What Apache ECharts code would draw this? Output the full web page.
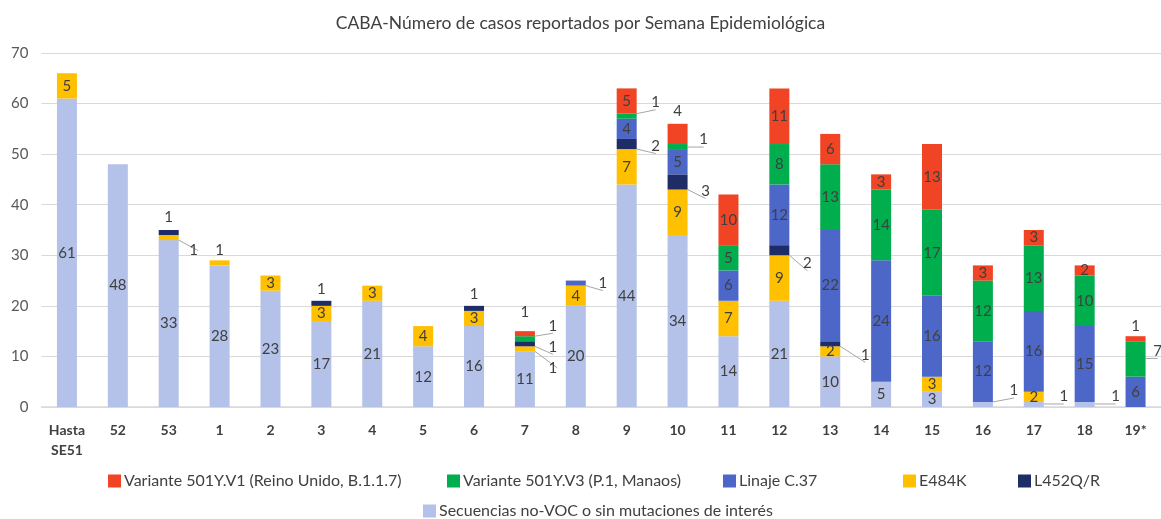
<!DOCTYPE html>
<html>
<head>
<meta charset="utf-8">
<script src="https://cdn.jsdelivr.net/npm/echarts@6/dist/echarts.min.js"></script>
<style>
  html, body { margin: 0; padding: 0; background: #fff; }
  #grafico { width: 1161px; height: 519px; }
</style>
</head>
<body>
<div id="grafico"></div>
<script>
// semanas epidemiologicas
const semanas = ['Hasta\nSE51', '52', '53', '1', '2', '3', '4', '5', '6', '7', '8', '9', '10',
  '11', '12', '13', '14', '15', '16', '17', '18', '19*']

// casos por categoria (de abajo hacia arriba en la pila)
const noVoc = [61, 48, 33, 28, 23, 17, 21, 12, 16, 11, 20, 44, 34, 14, 21, 10, 5, 3, 1, 1, 1, 0]
const e484k = [5, 0, 1, 1, 3, 3, 3, 4, 3, 1, 4, 7, 9, 7, 9, 2, 0, 3, 0, 2, 0, 0]
const l452 = [0, 0, 1, 0, 0, 1, 0, 0, 1, 1, 0, 2, 3, 0, 2, 1, 0, 0, 0, 0, 0, 0]
const c37 = [0, 0, 0, 0, 0, 0, 0, 0, 0, 0, 1, 4, 5, 6, 12, 22, 24, 16, 12, 16, 15, 6]
const p1 = [0, 0, 0, 0, 0, 0, 0, 0, 0, 1, 0, 1, 1, 5, 8, 13, 14, 17, 12, 13, 10, 7]
const b117 = [0, 0, 0, 0, 0, 0, 0, 0, 0, 1, 0, 5, 4, 10, 11, 6, 3, 13, 3, 3, 2, 1]

const nombres = {
  b117: 'Variante 501Y.V1 (Reino Unido, B.1.1.7)',
  p1: 'Variante 501Y.V3 (P.1, Manaos)',
  c37: 'Linaje C.37',
  e484k: 'E484K',
  l452: 'L452Q/R',
  noVoc: 'Secuencias no-VOC o sin mutaciones de interés'
}
const colores = {
  noVoc: '#b4c1e8',
  e484k: '#ffc000',
  l452: '#1f2d66',
  c37: '#4d67c9',
  p1: '#00ae4e',
  b117: '#f04424'
}

// etiquetas fuera de la barra: desplazamiento [dx, dy] desde el centro del tramo
const fuera = {
  noVoc: { 18: [31, -14], 19: [30, -8], 20: [31, -8] },
  e484k: { 2: [25, 13], 9: [28, 19] },
  l452: { 9: [28, 3], 11: [29, 2], 12: [28, 9], 14: [28, 13], 15: [35, 11] },
  c37: { 10: [27, 0] },
  p1: { 9: [28, -13], 11: [29, -14], 12: [26, -7], 21: [22, -8] },
  b117: {}
}
// etiquetas encima de la barra: distancia
const arriba = {
  e484k: { 3: 3 },
  l452: { 2: 5, 5: 4, 8: 4 },
  b117: { 9: 11, 12: 5, 21: 3 }
}

const fuente = 'Lato, "Open Sans", sans-serif'
const gris = '#404040'

function armarDatos (clave, valores) {
  return valores.map((v, i) => {
    if (!v) return null
    const f = fuera[clave] && fuera[clave][i]
    const a = arriba[clave] && arriba[clave][i]
    if (f) {
      return {
        value: v,
        label: { position: 'inside', offset: f },
        labelLine: { show: true }
      }
    }
    if (a !== undefined) {
      return { value: v, label: { position: 'top', distance: a } }
    }
    return v
  })
}

const orden = ['noVoc', 'e484k', 'l452', 'c37', 'p1', 'b117']
const valores = { noVoc, e484k, l452, c37, p1, b117 }

const series = orden.map(clave => ({
  name: nombres[clave],
  type: 'bar',
  stack: 'total',
  barWidth: 20,
  itemStyle: { color: colores[clave] },
  label: {
    show: true,
    position: 'inside',
    color: gris,
    fontFamily: fuente,
    fontSize: 15,
    textBorderWidth: 0
  },
  labelLine: {
    show: false,
    lineStyle: { color: '#a6a6a6', width: 1 }
  },
  emphasis: { disabled: true },
  data: armarDatos(clave, valores[clave])
}))

// leyenda: cada elemento en su lugar
const posLeyenda = [
  { clave: 'b117', left: 103, top: 468 },
  { clave: 'p1', left: 442, top: 468 },
  { clave: 'c37', left: 718, top: 468 },
  { clave: 'e484k', left: 898, top: 468 },
  { clave: 'l452', left: 1013, top: 468 },
  { clave: 'noVoc', left: 418, top: 498 }
]
const leyendas = posLeyenda.map(p => ({
  data: [nombres[p.clave]],
  left: p.left,
  top: p.top,
  icon: 'rect',
  itemWidth: 13,
  itemHeight: 13,
  itemGap: 0,
  selectedMode: false,
  textStyle: { color: gris, fontFamily: fuente, fontSize: 16, padding: [0, 0, 0, -2] }
}))

const chart = echarts.init(document.getElementById('grafico'), null, { renderer: 'canvas' })
chart.setOption({
  animation: false,
  backgroundColor: '#fff',
  title: {
    text: 'CABA-Número de casos reportados por Semana Epidemiológica',
    left: 'center',
    top: 9,
    textStyle: { color: gris, fontFamily: fuente, fontSize: 17.5, fontWeight: 'normal' }
  },
  legend: leyendas,
  grid: { left: 41.5, top: 53, width: 1124, height: 354, containLabel: false },
  xAxis: {
    type: 'category',
    data: semanas,
    axisLine: { lineStyle: { color: '#d9d9d9', width: 1.5 } },
    axisTick: { show: false },
    axisLabel: {
      color: gris,
      fontFamily: fuente,
      fontSize: 14,
      fontWeight: 'bold',
      margin: 13,
      lineHeight: 20,
      interval: 0
    }
  },
  yAxis: {
    type: 'value',
    min: 0,
    max: 70,
    interval: 10,
    axisLine: { show: false },
    axisTick: { show: false },
    splitLine: { lineStyle: { color: '#d9d9d9', width: 1 } },
    axisLabel: { color: '#595959', fontFamily: fuente, fontSize: 15, margin: 13 }
  },
  series: series
})
</script>
</body>
</html>
